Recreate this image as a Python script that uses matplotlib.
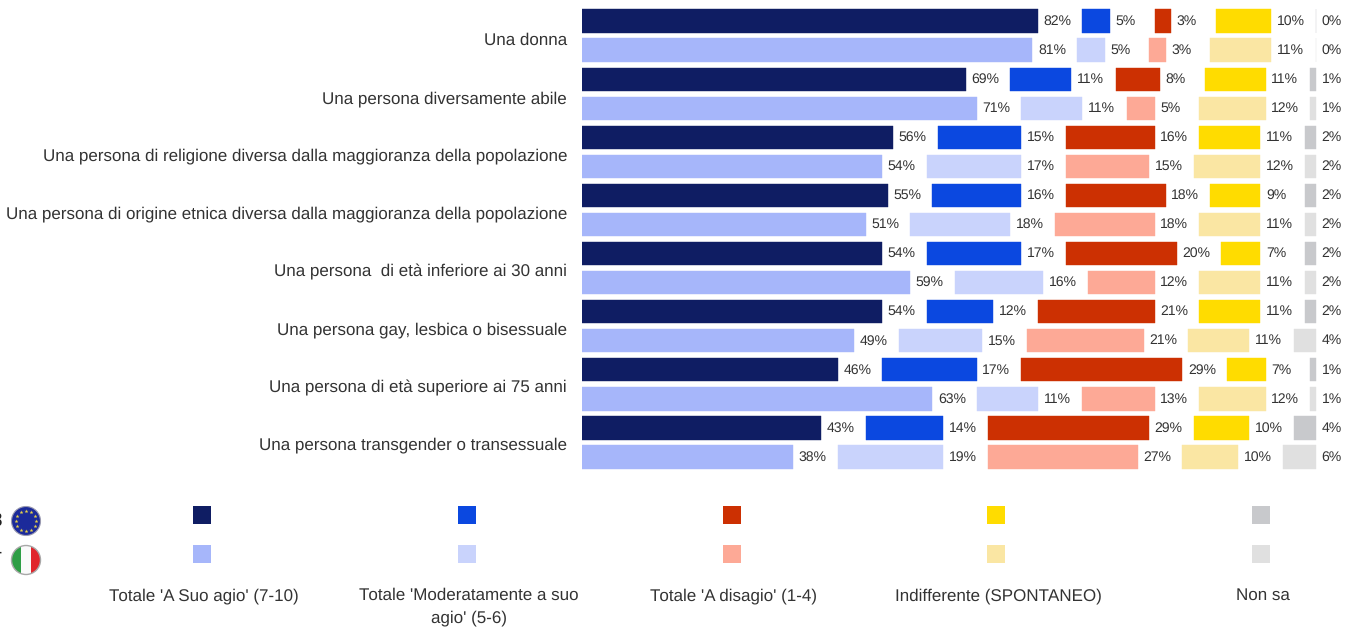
import matplotlib.pyplot as plt
from matplotlib.patches import Circle, Rectangle

import numpy as np

plt.rcParams['font.family'] = ['Liberation Sans', 'DejaVu Sans']
plt.rcParams['text.hinting'] = 'none'
plt.rcParams['text.hinting_factor'] = 1

W, H = 1346, 628
PX_PER_PCT = 5.56
GAP = 8

categories = ['Una donna',
              'Una persona diversamente abile',
              'Una persona di religione diversa dalla maggioranza della popolazione',
              'Una persona di origine etnica diversa dalla maggioranza della popolazione',
              'Una persona  di età inferiore ai 30 anni',
              'Una persona gay, lesbica o bisessuale',
              'Una persona di età superiore ai 75 anni',
              'Una persona transgender o transessuale']

# EU row then Italy row for every category
a_suo_agio = [82, 81, 69, 71, 56, 54, 55, 51, 54, 59, 54, 49, 46, 63, 43, 38]
moderatamente = [5, 5, 11, 11, 15, 17, 16, 18, 17, 16, 12, 15, 17, 11, 14, 19]
a_disagio = [3, 3, 8, 5, 16, 15, 18, 18, 20, 12, 21, 21, 29, 13, 29, 27]
indifferente = [10, 11, 11, 12, 11, 12, 9, 11, 7, 11, 11, 11, 7, 12, 10, 10]
non_sa = [0, 0, 1, 1, 2, 2, 2, 2, 2, 2, 2, 4, 1, 1, 4, 6]

series = [a_suo_agio, moderatamente, a_disagio, indifferente, non_sa]
series_names = ["Totale 'A Suo agio' (7-10)",
                "Totale 'Moderatamente a suo\nagio' (5-6)",
                "Totale 'A disagio' (1-4)",
                'Indifferente (SPONTANEO)',
                'Non sa']
eu_colors = ['#0F1D63', '#0B48E0', '#CC3002', '#FFDC00', '#C8C9CC']
it_colors = ['#A6B6FA', '#C9D3FC', '#FDA996', '#FAE6A3', '#E0E0E0']

fig = plt.figure(figsize=(W / 100, H / 100), dpi=100)

# bars: axes runs from the left end of the bars to the figure edge
ax = fig.add_axes([582 / W, 0, 1 - 582 / W, 1])
ax.set_xlim(0, (W - 582) / PX_PER_PCT)
ax.set_ylim((H - 21) / 29.07, -21 / 29.07)
ax.patch.set_alpha(0)

rows = np.arange(len(a_suo_agio))
row_colors = [[eu_colors[i] if r % 2 == 0 else it_colors[i] for r in rows]
              for i in range(len(series))]
left = np.zeros(len(rows))
for i, values in enumerate(series):
    values = np.array(values, dtype=float)
    bars = ax.barh(rows, values, height=0.8, left=left, color=row_colors[i],
                   edgecolor=row_colors[i], linewidth=0.3)
    labels = ['%d%%' % v for v in values]
    ax.bar_label(bars, labels=labels, padding=4, fontsize=10.3, color='#333333')
    left = left + values + GAP

ax.set_yticks(rows[::2] + 0.62 - rows[::2] * 0.006)
ax.set_yticklabels(categories, fontsize=12.1, color='#333333')
ax.tick_params(axis='y', length=0, pad=10.8)
ax.set_xticks([])
for s in ax.spines.values():
    s.set_visible(False)

# legend and flags in pixel coordinates
lg = fig.add_axes([0, 0, 1, 1])
lg.set_xlim(0, W)
lg.set_ylim(H, 0)
lg.axis('off')
lg.patch.set_alpha(0)

for i, name in enumerate(series_names):
    x = 193 + i * 264.8
    lg.add_patch(Rectangle((x, 506), 18, 18, color=eu_colors[i], lw=0))
    lg.add_patch(Rectangle((x, 545), 18, 18, color=it_colors[i], lw=0))
    lg.text(x + 11, 588, name, ha='center', va='top', fontsize=12.1,
            color='#333333', linespacing=1.5)

lg.text(3, 521, 'EU28', ha='right', va='center', fontsize=14, color='#222222')
lg.text(2, 560, 'IT', ha='right', va='center', fontsize=14, color='#222222')

# EU flag
lg.add_patch(Circle((26, 521), 14.5, color='#1B2A9A', ec='#9A9AB0', lw=0.8))
ang = np.arange(12) * np.pi / 6
lg.scatter(26 + 10 * np.cos(ang), 521 + 10 * np.sin(ang), marker='*', s=9,
           color='#E8D24A', linewidths=0)

# Italian flag
clip = Circle((26, 560), 14.5, transform=lg.transData)
for x0, c in zip([11, 21, 31], ['#2E9E45', '#FAFAFA', '#E0252B']):
    r = lg.add_patch(Rectangle((x0, 545), 10, 30, color=c, lw=0))
    r.set_clip_path(clip)
lg.add_patch(Circle((26, 560), 14.5, fill=False, ec='#A8A8A8', lw=1))

plt.savefig('out.png', dpi=100)
